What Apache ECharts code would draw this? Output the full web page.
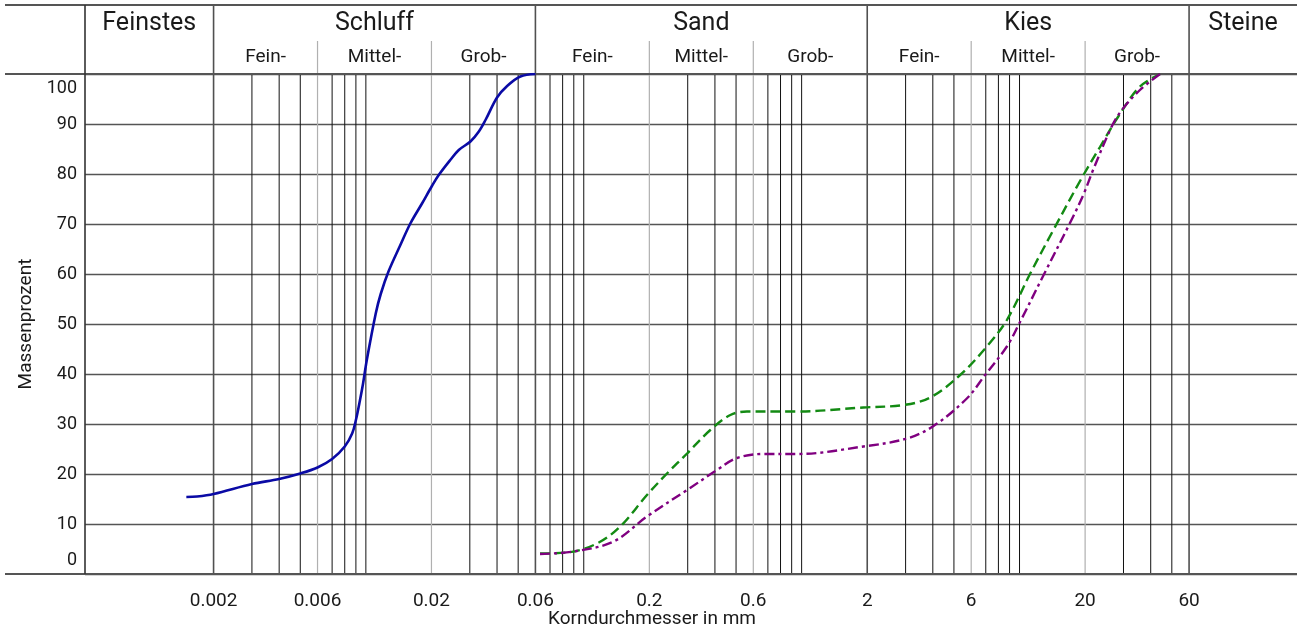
<!DOCTYPE html>
<html><head><meta charset="utf-8">
<script src="https://cdn.jsdelivr.net/npm/echarts@6/dist/echarts.min.js"></script>
<style>html,body{margin:0;padding:0;background:#fff}#c{width:1302px;height:632px}</style>
</head><body><div id="c"></div>
<script>
// ---- data ----
const XMIN = 0.000514, XMAX = 187.7;
const fractions = ['Feinstes', 'Schluff', 'Sand', 'Kies', 'Steine'];
const fractionBounds = [XMIN, 0.002, 0.06, 2, 60, XMAX];
const subLabels = ['Fein-', 'Mittel-', 'Grob-'];
const subBounds = [[0.002, 0.006, 0.02, 0.06], [0.06, 0.2, 0.6, 2], [2, 6, 20, 60]];
const mainLines = [0.002, 0.06, 2, 60];
const subLines = [0.006, 0.02, 0.2, 0.6, 6, 20];
const minorLines = [0.003, 0.004, 0.005, 0.007, 0.008, 0.009, 0.01,
  0.03, 0.04, 0.05, 0.07, 0.08, 0.09, 0.1,
  0.3, 0.4, 0.5, 0.7, 0.8, 0.9, 1,
  3, 4, 5, 7, 8, 9, 10,
  30, 40, 50];
const tickValues = [0.002, 0.006, 0.02, 0.06, 0.2, 0.6, 2, 6, 20, 60];
const tickLabels = ['0.002', '0.006', '0.02', '0.06', '0.2', '0.6', '2', '6', '20', '60'];
const xName = 'Korndurchmesser in mm';
const yName = 'Massenprozent';

const blueX = [0.0015, 0.00168, 0.002, 0.003, 0.004, 0.005, 0.006, 0.007, 0.008, 0.00865, 0.009, 0.0094, 0.0097, 0.0101, 0.0111, 0.0117, 0.0127, 0.0144, 0.016, 0.0181, 0.0201, 0.0216, 0.0244, 0.0267, 0.0302, 0.033, 0.0354, 0.04, 0.0445, 0.0512, 0.06];
const blueY = [15.4, 15.5, 16, 18, 19, 20.1, 21.3, 23, 25.5, 28.1, 30.8, 34.8, 38, 42.8, 52.1, 56, 60.5, 65.8, 70.1, 74.1, 77.6, 79.8, 82.8, 84.8, 86.5, 88.5, 90.8, 95.3, 97.6, 99.5, 100];

const greenX = [0.063, 0.0838, 0.115, 0.147, 0.195, 0.241, 0.298, 0.381, 0.471, 0.561, 0.952, 1.92, 2.94, 3.89, 5.34, 7.08, 8.75, 11.2, 14.3, 19.3, 23.4, 28.4, 35.7, 44.2];
const greenY = [4.1, 4.3, 6.1, 9.5, 15.8, 20.1, 24.1, 28.8, 31.8, 32.5, 32.5, 33.3, 33.8, 35.3, 39.8, 45.5, 50.8, 60.1, 68.8, 79.2, 85.4, 91.5, 97.5, 100];

const purpleX = [0.063, 0.0899, 0.137, 0.195, 0.298, 0.409, 0.505, 0.668, 0.952, 1.92, 3.04, 4.03, 5.73, 6.95, 8.75, 9.89, 12.9, 17.4, 19.7, 21.8, 26.5, 29.5, 35.7, 44.2];
const purpleY = [4.0, 4.5, 6.5, 11.5, 16.8, 20.8, 23.2, 24.0, 24.0, 25.5, 27.1, 29.6, 35.1, 39.8, 45.5, 49.8, 59.8, 71.0, 76.0, 80.9, 89.5, 92.8, 96.8, 100];

// ---- layout constants ----
const HEADER_H = 69, SUBROW_H = 33, FRAME_LEFT = 80;
const FONT = 'Roboto, "DejaVu Sans", sans-serif';
const TXT = '#1a1a1a';

const zip = (xs, ys) => xs.map((x, i) => [x, ys[i]]);

const chart = echarts.init(document.getElementById('c'), null, {renderer: 'canvas'});

const vlineData = []
  .concat(minorLines.map(v => [v, 0]))
  .concat(subLines.map(v => [v, 1]))
  .concat(mainLines.map(v => [v, 2]));

function renderVLine(params, api) {
  const v = api.value(0), kind = api.value(1);
  const b = api.coord([v, 0]), t = api.coord([v, 100]);
  let y0 = t[1], stroke = '#111', lw = 1;
  if (kind === 1) { y0 = t[1] - SUBROW_H; stroke = '#b0b0b0'; lw = 1.2; }
  if (kind === 2) { y0 = t[1] - HEADER_H; stroke = '#505050'; lw = 1.6; }
  return {type: 'line', shape: {x1: b[0], y1: y0, x2: b[0], y2: b[1]}, style: {stroke, lineWidth: lw}, silent: true};
}

function renderFrame(params, api) {
  const bl = api.coord([XMIN, 0]), tr = api.coord([XMAX, 100]);
  const x0 = bl[0] - FRAME_LEFT;
  const st = {stroke: '#555', lineWidth: 1.8};
  return {type: 'group', children: [
    {type: 'line', shape: {x1: x0, y1: tr[1] - HEADER_H, x2: tr[0], y2: tr[1] - HEADER_H}, style: st},
    {type: 'line', shape: {x1: x0, y1: tr[1], x2: tr[0], y2: tr[1]}, style: st},
    {type: 'line', shape: {x1: x0, y1: bl[1], x2: tr[0], y2: bl[1]}, style: st},
    {type: 'line', shape: {x1: bl[0], y1: tr[1] - HEADER_H, x2: bl[0], y2: bl[1]}, style: {stroke: '#333', lineWidth: 1.6}}
  ]};
}

function renderHeader(params, api) {
  const idx = api.value(2);
  const a = api.coord([api.value(0), 100]), b = api.coord([api.value(1), 100]);
  return {type: 'text', style: {text: fractions[idx], x: (a[0] + b[0]) / 2, y: a[1] - 50,
    align: 'center', verticalAlign: 'middle', fontSize: 25, fontFamily: FONT, fill: TXT}, silent: true};
}

function renderSub(params, api) {
  const idx = api.value(2);
  const a = api.coord([api.value(0), 100]), b = api.coord([api.value(1), 100]);
  return {type: 'text', style: {text: subLabels[idx], x: (a[0] + b[0]) / 2, y: a[1] - 17,
    align: 'center', verticalAlign: 'middle', fontSize: 19, fontFamily: FONT, fill: TXT}, silent: true};
}

function renderTick(params, api) {
  const idx = api.value(1);
  const p = api.coord([api.value(0), 0]);
  return {type: 'text', style: {text: tickLabels[idx], x: p[0], y: p[1] + 27,
    align: 'center', verticalAlign: 'middle', fontSize: 19, fontFamily: FONT, fill: TXT}, silent: true};
}

const headerData = fractions.map((f, i) => [fractionBounds[i], fractionBounds[i + 1], i]);
const subData = [];
subBounds.forEach(bs => { for (let i = 0; i < 3; i++) subData.push([bs[i], bs[i + 1], i]); });
const tickData = tickValues.map((v, i) => [v, i]);

const option = {
  animation: false,
  backgroundColor: '#fff',
  grid: {left: 85, right: 5, top: 74, bottom: 58, containLabel: false, outerBoundsMode: 'none'},
  xAxis: {
    type: 'log', min: XMIN, max: XMAX,
    axisLine: {show: false}, axisTick: {show: false}, axisLabel: {show: false}, splitLine: {show: false},
    name: xName, nameLocation: 'middle', nameGap: 36,
    nameTextStyle: {fontSize: 19, fontFamily: FONT, color: TXT, padding: [0, 78, 0, 0]}
  },
  yAxis: {
    type: 'value', min: 0, max: 100, interval: 10,
    axisLine: {show: false}, axisTick: {show: false},
    splitLine: {show: true, lineStyle: {color: '#555', width: 1.3}},
    axisLabel: {
      fontSize: 18, fontFamily: FONT, color: TXT, margin: 8,
      formatter: v => v === 100 ? '{t|100}' : (v === 0 ? '{b|0}' : String(v)),
      rich: {
        t: {fontSize: 18, fontFamily: FONT, color: TXT, padding: [28, 0, 0, 0]},
        b: {fontSize: 18, fontFamily: FONT, color: TXT, padding: [0, 0, 27, 0]}
      }
    },
    name: yName, nameLocation: 'middle', nameGap: 47, nameRotate: 90,
    nameTextStyle: {fontSize: 19, fontFamily: FONT, color: TXT}
  },
  series: [
    {type: 'custom', name: 'vlines', renderItem: renderVLine, data: vlineData, clip: false, silent: true, z: 1},
    {type: 'custom', name: 'frame', renderItem: renderFrame, data: [[XMIN, 0]], clip: false, silent: true, z: 2},
    {type: 'custom', name: 'header', renderItem: renderHeader, data: headerData, clip: false, silent: true, z: 3},
    {type: 'custom', name: 'sub', renderItem: renderSub, data: subData, clip: false, silent: true, z: 3},
    {type: 'custom', name: 'ticks', renderItem: renderTick, data: tickData, clip: false, silent: true, z: 3},
    {type: 'line', name: 'Probe 1', data: zip(blueX, blueY), smooth: 0.35, showSymbol: false, z: 5,
      lineStyle: {color: '#0a0aa5', width: 2.6}},
    {type: 'line', name: 'Probe 2', data: zip(greenX, greenY), smooth: 0.35, showSymbol: false, z: 5,
      lineStyle: {color: '#138a13', width: 2.4, type: [10, 5]}},
    {type: 'line', name: 'Probe 3', data: zip(purpleX, purpleY), smooth: 0.35, showSymbol: false, z: 5,
      lineStyle: {color: '#800080', width: 2.4, type: [10, 4, 3, 4]}}
  ]
};
chart.setOption(option);
</script>
</body></html>
